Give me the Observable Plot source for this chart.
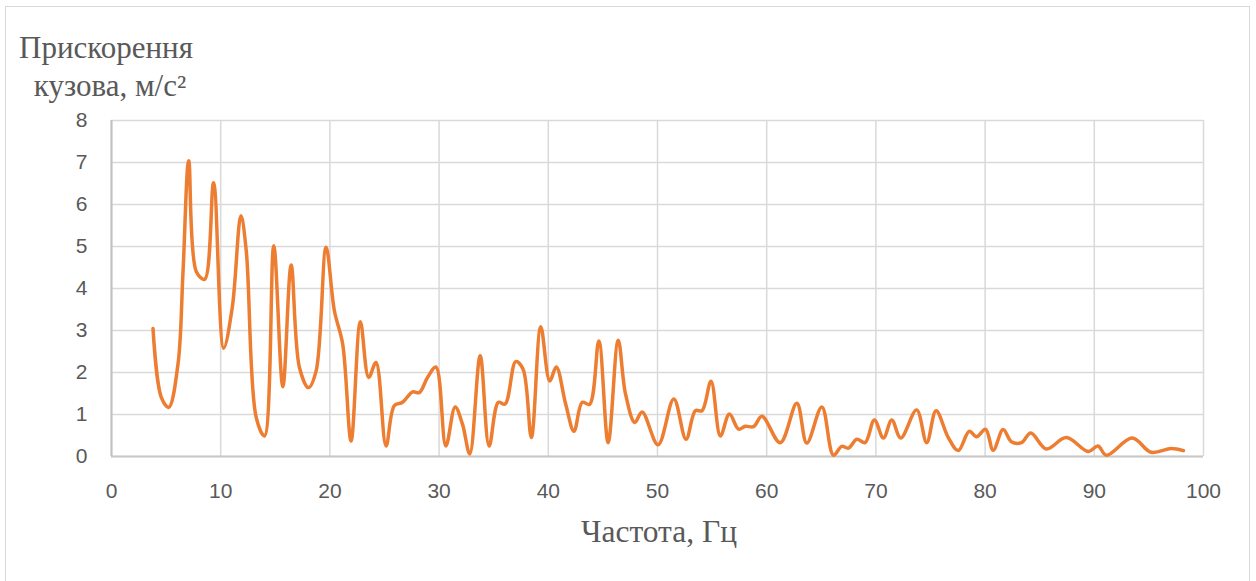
<!DOCTYPE html>
<html><head><meta charset="utf-8">
<script src="https://cdn.jsdelivr.net/npm/d3@7"></script>
<script src="https://cdn.jsdelivr.net/npm/@observablehq/plot@0.6"></script>
<style>
body{margin:0;background:#fff;}
#wrap{position:relative;width:1256px;height:581px;overflow:hidden;}
#border{position:absolute;left:5px;top:6px;width:1243px;height:620px;border:1px solid #d9d9d9;}
#wrap svg{position:absolute;left:0;top:0;}
</style></head><body><div id="wrap"><div id="border"></div></div>
<script>
const freq = [3.8,4.57,5.24,6.09,6.55,7.07,7.77,8.53,9.35,10.27,11.06,11.85,12.34,13.25,14.01,14.86,15.69,16.45,17.21,18.04,18.74,19.65,20.41,21.17,21.94,22.79,23.55,24.22,25.14,25.9,26.65,27.57,28.18,28.94,29.71,30.62,31.47,32.14,32.81,33.76,34.58,35.43,36.04,37.02,37.69,38.45,39.31,40.13,40.73,41.59,42.35,43.11,43.78,44.63,45.48,46.4,47.07,47.92,48.59,50.05,51.49,52.61,53.47,54.08,54.9,55.76,56.58,57.43,58.04,58.8,59.56,61.24,62.76,63.67,65.05,66.11,66.87,67.49,68.25,69.01,69.86,70.69,71.45,72.27,73.73,74.65,75.51,76.63,77.54,78.55,79.21,80.04,80.74,81.65,82.41,83.33,84.18,85.61,87.44,89.43,90.34,91.1,93.47,95.21,97.04,98.17];
const accel = [3.05,1.40,1.17,2.2,4.4,7.04,4.4,4.22,6.52,2.58,3.55,5.73,4.9,0.93,0.49,5.02,1.66,4.56,2.12,1.64,2.04,4.98,3.47,2.68,0.37,3.21,1.88,2.24,0.25,1.21,1.29,1.54,1.52,1.88,2.13,0.25,1.18,0.77,0.06,2.4,0.25,1.29,1.25,2.26,2.08,0.45,3.09,1.8,2.13,1.25,0.6,1.29,1.24,2.75,0.33,2.77,1.49,0.81,1.06,0.28,1.37,0.41,1.09,1.09,1.79,0.49,1.01,0.65,0.72,0.71,0.96,0.33,1.27,0.32,1.18,0.03,0.24,0.2,0.41,0.33,0.87,0.44,0.87,0.44,1.11,0.33,1.09,0.45,0.14,0.6,0.47,0.65,0.15,0.64,0.35,0.33,0.56,0.18,0.45,0.12,0.25,0.03,0.44,0.1,0.19,0.14];
const xTicks = [0,10,20,30,40,50,60,70,80,90,100];
const yTicks = [0,1,2,3,4,5,6,7,8];
const yTitle = ["Прискорення", "кузова, м/с²"];
const xTitle = "Частота, Гц";

const data = freq.map((f, i) => ({f, a: accel[i]}));

const chart = Plot.plot({
  width: 1256, height: 581,
  marginLeft: 111, marginRight: 53, marginTop: 120, marginBottom: 125,
  x: {domain: [0, 100]},
  y: {domain: [0, 8]},
  style: {fontFamily: "Liberation Sans", fontSize: "21px", color: "#595959", background: "transparent"},
  marks: [
    Plot.gridX(xTicks, {stroke: "#d9d9d9", strokeOpacity: 1, strokeWidth: 1.5}),
    Plot.gridY(yTicks, {stroke: "#d9d9d9", strokeOpacity: 1, strokeWidth: 1.5}),
    Plot.ruleX([0], {stroke: "#c0c0c0", strokeWidth: 2}),
    Plot.ruleY([0], {stroke: "#c8c8c8", strokeWidth: 2}),
    Plot.axisX(xTicks, {tickSize: 0, tickPadding: 27, label: null, fill: "#595959"}),
    Plot.axisY(yTicks, {tickSize: 0, tickPadding: 24, label: null, fill: "#595959"}),
    Plot.line(data, {x: "f", y: "a", stroke: "#ED7D31", strokeWidth: 3.5, curve: "catmull-rom"})
  ]
});
document.getElementById("wrap").appendChild(chart);

const svg = d3.select(chart);
const tt = svg.append("text")
  .attr("font-family", "Liberation Serif").attr("font-size", 31).attr("fill", "#595959")
  .attr("text-anchor", "middle");
tt.append("tspan").attr("x", 106).attr("y", 58).text(yTitle[0]);
tt.append("tspan").attr("x", 110).attr("y", 96).text(yTitle[1]);
svg.append("text")
  .attr("font-family", "Liberation Serif").attr("font-size", 31.5).attr("fill", "#595959")
  .attr("text-anchor", "middle").attr("x", 659).attr("y", 542).text(xTitle);
</script></body></html>
